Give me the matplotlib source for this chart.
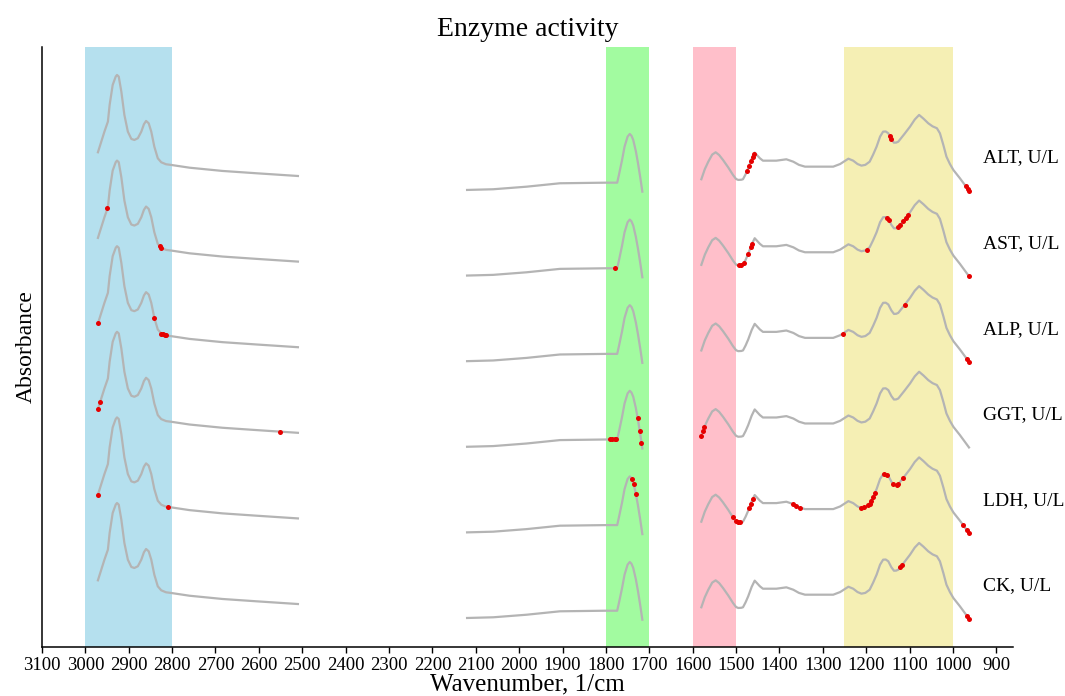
import numpy as np
import matplotlib.pyplot as plt

# ================= DATA =================
# mean spectrum, three spectral windows (wavenumber in 1/cm, absorbance in a.u.)
wn_ch = [2971, 2956, 2948, 2944, 2937, 2930, 2927, 2923, 2917, 2910, 2902, 2894,
         2887, 2879, 2871, 2865, 2860, 2854, 2848, 2841, 2833, 2825, 2814, 2802,
         2760, 2684, 2606, 2510]
ab_ch = [0.557, 0.798, 0.915, 1.110, 1.343, 1.441, 1.460, 1.441, 1.265, 0.993,
         0.798, 0.713, 0.701, 0.721, 0.798, 0.884, 0.923, 0.896, 0.798, 0.623,
         0.487, 0.440, 0.417, 0.409, 0.377, 0.339, 0.312, 0.280]

wn_co = [2120, 2060, 1983, 1906, 1799, 1774, 1770, 1763, 1757, 1750, 1745, 1741,
         1737, 1731, 1726, 1721, 1716]
ab_co = [0.117, 0.125, 0.155, 0.195, 0.202, 0.202, 0.292, 0.460, 0.623, 0.740,
         0.771, 0.750, 0.701, 0.570, 0.429, 0.270, 0.097]

wn_fp = [1580, 1572, 1564, 1555, 1547, 1539, 1530, 1518, 1507, 1500, 1495, 1488,
         1484, 1478, 1472, 1464, 1457, 1451, 1445, 1438, 1407, 1384, 1368, 1355,
         1341, 1276, 1260, 1241, 1230, 1220, 1211, 1202, 1192, 1184, 1176, 1168,
         1161, 1155, 1149, 1142, 1136, 1131, 1126, 1112, 1099, 1088, 1078, 1068,
         1057, 1047, 1037, 1030, 1022, 1015, 1007, 999, 984, 963]
ab_fp = [0.242, 0.360, 0.447, 0.530, 0.557, 0.525, 0.467, 0.380, 0.292, 0.245,
         0.234, 0.236, 0.242, 0.300, 0.370, 0.480, 0.553, 0.520, 0.487, 0.459,
         0.459, 0.475, 0.447, 0.410, 0.389, 0.389, 0.420, 0.482, 0.459, 0.420,
         0.401, 0.410, 0.447, 0.530, 0.623, 0.740, 0.798, 0.800, 0.779, 0.710,
         0.669, 0.670, 0.681, 0.770, 0.856, 0.940, 0.993, 0.950, 0.896, 0.860,
         0.838, 0.779, 0.640, 0.506, 0.420, 0.350, 0.254, 0.109]

enzymes = ["ALT, U/L", "AST, U/L", "ALP, U/L", "GGT, U/L", "LDH, U/L", "CK, U/L"]

# wavenumbers flagged as informative for each enzyme
important = [
    [1475, 1470, 1466, 1462, 1458, 1146, 1142, 970, 966, 963],
    [2949, 2829, 2825, 1780, 1493, 1488, 1482, 1472, 1466, 1464, 1199, 1153,
     1148, 1126, 1121, 1115, 1109, 1103, 963],
    [2971, 2841, 2825, 2821, 2817, 2815, 1254, 1111, 968, 963],
    [2971, 2966, 2551, 1790, 1785, 1780, 1776, 1727, 1722, 1718, 1580, 1576,
     1573],
    [2971, 2810, 1740, 1736, 1731, 1507, 1501, 1495, 1491, 1470, 1466, 1461,
     1368, 1361, 1353, 1211, 1204, 1196, 1192, 1188, 1184, 1180, 1159, 1153,
     1138, 1130, 1126, 1115, 976, 968, 963],
    [1121, 1118, 968, 963],
]

# highlighted spectral ranges
bands = [(3000, 2800), (1800, 1700), (1600, 1500), (1250, 1000)]
band_colors = ["#b5e0ee", "#a2fba0", "#ffbfca", "#f5efb4"]

# ================= PLOT =================
plt.rcParams['font.family'] = ['Liberation Serif', 'DejaVu Serif']

fig = plt.figure(figsize=(10.65, 6.96), dpi=100)
ax = fig.add_axes([0.0394, 0.0704, 0.9116, 0.8621])

for (a, b), c in zip(bands, band_colors):
    ax.axvspan(a, b, color=c, lw=0, zorder=0)

# all segments joined (ascending) for locating the flagged points on the curve
wn_all = np.array(wn_fp[::-1] + wn_co[::-1] + wn_ch[::-1])
ab_all = np.array(ab_fp[::-1] + ab_co[::-1] + ab_ch[::-1])

step = 1.0
for i, name in enumerate(enzymes):
    off = -i * step
    for w, a in [(wn_ch, ab_ch), (wn_co, ab_co), (wn_fp, ab_fp)]:
        ax.plot(w, np.array(a) + off, color="#b4b4b4", lw=1.6, zorder=2)
    pts = np.array(important[i])
    ax.plot(pts, np.interp(pts, wn_all, ab_all) + off, 'o', color="#e60000",
            ms=3.6, mew=0, zorder=3)
    ax.text(931, 0.49 + off, name, fontsize=14, ha='left', va='center',
            clip_on=False)

ax.set_xlim(3100, 862)
ax.set_ylim(-5.222, 1.787)
ax.set_xticks(np.arange(3100, 899, -100))
ax.tick_params(axis='x', labelsize=13.5, length=4, width=1, pad=3)
ax.set_yticks([])

for s in ['top', 'right']:
    ax.spines[s].set_visible(False)
ax.spines['left'].set_linewidth(1.1)
ax.spines['bottom'].set_linewidth(1.1)

ax.set_title("Enzyme activity", fontsize=20, pad=8)
ax.set_xlabel("Wavenumber, 1/cm", fontsize=18, labelpad=0)
ax.set_ylabel("Absorbance", fontsize=17, labelpad=4)

fig.savefig("out.png", dpi=100)
